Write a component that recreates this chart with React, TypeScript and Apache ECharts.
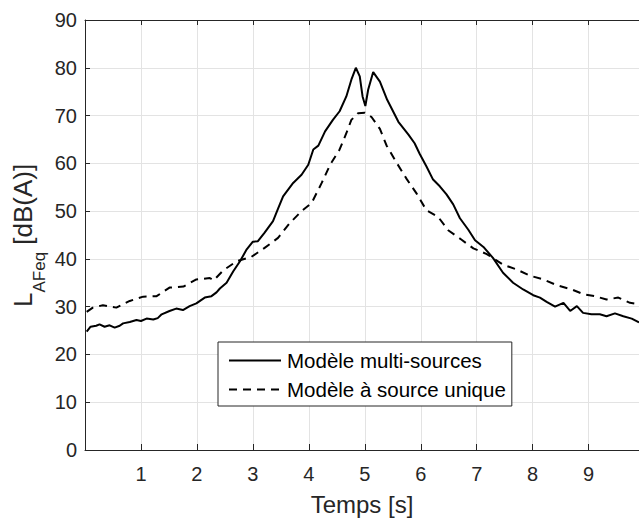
import React, { useEffect, useRef } from "react";
import * as echarts from "echarts";

const multiT = [0.03, 0.1, 0.2, 0.26, 0.35, 0.44, 0.53, 0.62, 0.68, 0.8, 0.92, 1.0, 1.1, 1.22, 1.3, 1.37, 1.51, 1.63, 1.75, 1.87, 1.99, 2.14, 2.26, 2.35, 2.41, 2.53, 2.65, 2.77, 2.89, 3.0, 3.09, 3.21, 3.36, 3.45, 3.54, 3.72, 3.87, 3.99, 4.08, 4.17, 4.29, 4.43, 4.55, 4.67, 4.76, 4.84, 4.91, 4.96, 5.01, 5.06, 5.15, 5.27, 5.4, 5.6, 5.78, 5.89, 5.98, 6.1, 6.22, 6.34, 6.46, 6.58, 6.7, 6.85, 6.97, 7.12, 7.29, 7.47, 7.65, 7.83, 8.01, 8.13, 8.25, 8.4, 8.55, 8.67, 8.79, 8.9, 9.05, 9.2, 9.32, 9.47, 9.62, 9.77, 9.9];
const multiV = [24.8, 25.8, 26.0, 26.3, 25.8, 26.1, 25.6, 26.0, 26.5, 26.8, 27.2, 27.0, 27.5, 27.3, 27.6, 28.4, 29.1, 29.6, 29.3, 30.1, 30.7, 31.9, 32.2, 33.0, 33.8, 35.0, 37.4, 39.5, 42.0, 43.6, 43.7, 45.5, 47.9, 50.5, 53.1, 55.9, 57.6, 59.7, 62.9, 63.7, 66.7, 69.1, 70.9, 74.0, 77.5, 80.0, 78.2, 74.0, 72.0, 75.4, 79.1, 77.1, 73.3, 68.7, 66.0, 64.2, 62.0, 59.4, 56.6, 55.2, 53.5, 51.4, 48.5, 46.1, 43.9, 42.5, 40.2, 37.1, 35.0, 33.6, 32.4, 31.9, 31.0, 30.0, 30.8, 29.1, 30.1, 28.7, 28.4, 28.4, 28.0, 28.6, 28.0, 27.5, 26.7];

const uniqueT = [0.03, 0.14, 0.32, 0.45, 0.56, 0.8, 1.04, 1.28, 1.51, 1.76, 1.99, 2.1, 2.23, 2.3, 2.47, 2.71, 2.97, 3.21, 3.45, 3.66, 3.87, 4.05, 4.23, 4.38, 4.55, 4.67, 4.76, 4.88, 5.0, 5.12, 5.27, 5.39, 5.57, 5.75, 5.93, 6.1, 6.31, 6.49, 6.73, 6.94, 7.18, 7.47, 7.71, 7.95, 8.19, 8.43, 8.7, 8.91, 9.11, 9.32, 9.53, 9.74, 9.9];
const uniqueV = [28.9, 29.8, 30.3, 30.0, 29.8, 31.2, 32.1, 32.2, 34.0, 34.2, 35.7, 35.8, 36.0, 35.5, 37.6, 39.5, 40.4, 42.3, 44.4, 47.5, 50.0, 51.7, 55.9, 59.7, 62.9, 66.3, 69.1, 70.5, 70.6, 69.7, 67.2, 63.7, 60.1, 56.7, 53.6, 50.2, 48.8, 46.0, 44.0, 42.2, 41.0, 38.8, 37.8, 36.5, 35.7, 34.5, 33.6, 32.6, 32.2, 31.5, 31.9, 30.8, 30.5];

const seriesNames = ["Modèle multi-sources", "Modèle à source unique"];
const xTickLabels = ["1", "2", "3", "4", "5", "6", "7", "8", "9"];
const xLabel = "Temps [s]";

const FONT = "'Liberation Sans', Arial, Helvetica, sans-serif";
const AX = "#262626";
const GRID = "#e3e3e3";

export default function App() {
  const ref = useRef<HTMLDivElement>(null);
  useEffect(() => {
    if (!ref.current) return;
    const chart = echarts.init(ref.current, null, { renderer: "svg" });
    const zip = (t: number[], v: number[]) => t.map((x, i) => [x, v[i]]);
    const xFmt = (v: number) => {
      const r = Math.round(v);
      if (Math.abs(v - r) > 1e-6) return "";
      return xTickLabels.includes(String(r)) ? String(r) : "";
    };
    chart.setOption({
      animation: false,
      backgroundColor: "#ffffff",
      textStyle: { fontFamily: FONT },
      grid: { left: 85, top: 20, right: 0, bottom: 70, containLabel: false },
      xAxis: [
        {
          type: "value",
          min: 0,
          max: 9.9,
          interval: 1,
          position: "bottom",
          name: xLabel,
          nameLocation: "middle",
          nameGap: 42,
          nameTextStyle: { fontSize: 24, color: AX, fontFamily: FONT },
          axisLine: { show: true, lineStyle: { color: AX, width: 1 } },
          axisTick: { show: true, inside: true, length: 6, lineStyle: { color: AX } },
          axisLabel: { fontSize: 20, color: AX, margin: 14, fontFamily: FONT, formatter: xFmt, showMaxLabel: false },
          splitLine: { show: true, lineStyle: { color: GRID, width: 1 } },
        },
        {
          type: "value",
          min: 0,
          max: 9.9,
          interval: 1,
          position: "top",
          axisLine: { show: true, lineStyle: { color: AX, width: 1 } },
          axisTick: { show: true, inside: true, length: 5, lineStyle: { color: AX } },
          axisLabel: { show: false },
          splitLine: { show: false },
        },
      ],
      yAxis: [
        {
          type: "value",
          min: 0,
          max: 90,
          interval: 10,
          axisLine: { show: true, lineStyle: { color: AX, width: 1 } },
          axisTick: { show: true, inside: true, length: 5, lineStyle: { color: AX } },
          axisLabel: { fontSize: 20, color: AX, margin: 8, fontFamily: FONT },
          splitLine: { show: true, lineStyle: { color: GRID, width: 1 } },
        },
      ],
      legend: {
        orient: "vertical",
        left: 218,
        top: 342,
        data: seriesNames,
        backgroundColor: "#ffffff",
        borderColor: AX,
        borderWidth: 1,
        borderRadius: 0,
        padding: [8, 6, 6, 10],
        itemGap: 8,
        itemWidth: 52,
        itemHeight: 20,
        itemStyle: { opacity: 0, borderWidth: 0 },
        textStyle: { fontSize: 20.5, color: "#000", fontFamily: FONT, padding: [0, 0, 0, 1] },
        selectedMode: false,
      },
      graphic: [
        {
          type: "text",
          x: 22.5,
          y: 307,
          rotation: Math.PI / 2,
          style: { text: "L", fontSize: 26, fontFamily: FONT, fill: AX, textAlign: "left", align: "left", textVerticalAlign: "middle", verticalAlign: "middle" },
        },
        {
          type: "text",
          x: 39.6,
          y: 292.5,
          rotation: Math.PI / 2,
          style: { text: "AFeq", fontSize: 17, fontFamily: FONT, fill: AX, textAlign: "left", align: "left", textVerticalAlign: "middle", verticalAlign: "middle" },
        },
        {
          type: "text",
          x: 22.5,
          y: 252,
          rotation: Math.PI / 2,
          style: { text: " [dB(A)]", fontSize: 26, fontFamily: FONT, fill: AX, textAlign: "left", align: "left", textVerticalAlign: "middle", verticalAlign: "middle" },
        },
      ],
      series: [
        {
          name: seriesNames[0],
          type: "line",
          data: zip(multiT, multiV),
          showSymbol: false,
          symbol: "none",
          lineStyle: { color: "#000", width: 2, type: "solid" },
          itemStyle: { color: "#000" },
          clip: true,
        },
        {
          name: seriesNames[1],
          type: "line",
          data: zip(uniqueT, uniqueV),
          showSymbol: false,
          symbol: "none",
          lineStyle: { color: "#000", width: 2, type: [8, 6] },
          itemStyle: { color: "#000" },
          clip: true,
        },
      ],
    });
    return () => chart.dispose();
  }, []);
  return (
    <div
      ref={ref}
      style={{ position: "absolute", left: 0, top: 0, width: 639, height: 521, background: "#fff" }}
    />
  );
}
